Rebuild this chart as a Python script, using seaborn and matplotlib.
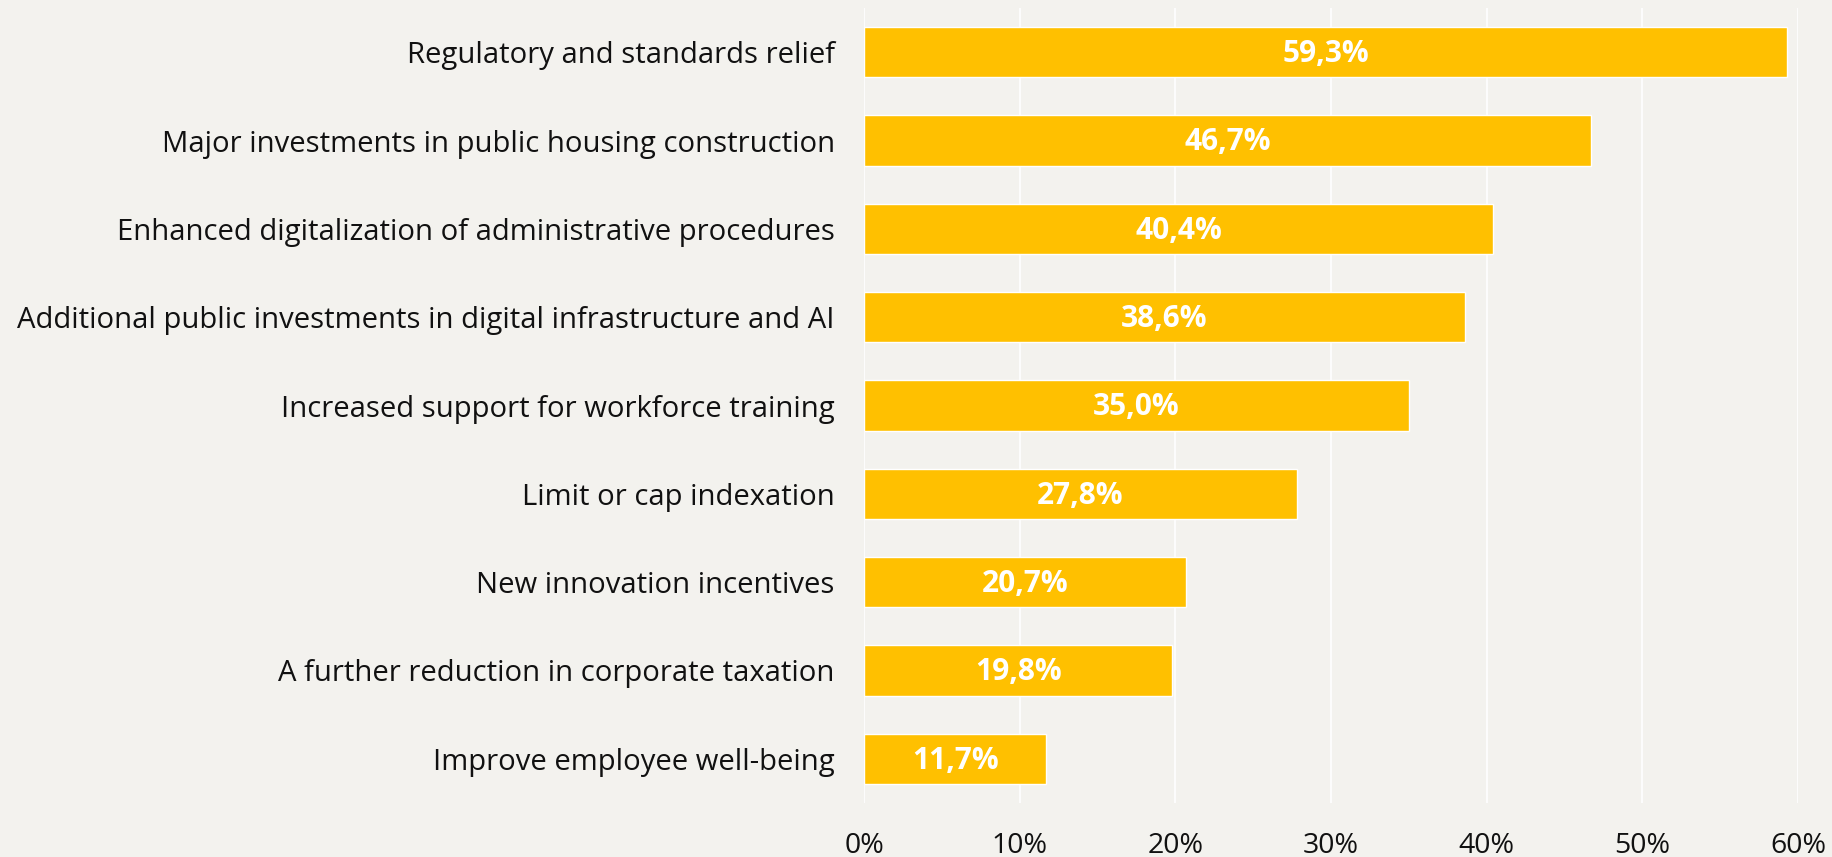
import matplotlib
matplotlib.use("Agg")
import matplotlib.pyplot as plt
import seaborn as sns
import pandas as pd

categories = [
    "Regulatory and standards relief",
    "Major investments in public housing construction",
    "Enhanced digitalization of administrative procedures",
    "Additional public investments in digital infrastructure and AI",
    "Increased support for workforce training",
    "Limit or cap indexation",
    "New innovation incentives",
    "A further reduction in corporate taxation",
    "Improve employee well-being",
]
values = [59.3, 46.7, 40.4, 38.6, 35.0, 27.8, 20.7, 19.8, 11.7]
xticks = [0, 10, 20, 30, 40, 50, 60]
xtick_labels = ["0%", "10%", "20%", "30%", "40%", "50%", "60%"]

BG = "#F3F2EE"
BAR = "#FFC000"

sns.set_theme(style="white")
plt.rcParams["font.family"] = ["Open Sans", "DejaVu Sans"]

df = pd.DataFrame({"category": categories, "value": values})

fig = plt.figure(figsize=(18.32, 8.57), dpi=100, facecolor=BG)
ax = fig.add_axes([864 / 1832, 1 - 803 / 857, (1798 - 864) / 1832, (803 - 8) / 857])
ax.set_facecolor(BG)

sns.barplot(data=df, x="value", y="category", color=BAR, saturation=1,
            width=0.57, ax=ax, zorder=3)

ax.set_xlim(0, 60)
ax.set_ylim(len(categories) - 0.5, -0.5)
ax.set_xticks(xticks)
ax.set_xticklabels(xtick_labels)
ax.grid(axis="x", color="white", linewidth=1.2, zorder=0)
ax.grid(axis="y", visible=False)
ax.set_axisbelow(True)
for s in ax.spines.values():
    s.set_visible(False)
ax.set_xlabel("")
ax.set_ylabel("")
ax.tick_params(axis="y", length=0, pad=21, labelsize=21.1, labelcolor="#111111")
ax.tick_params(axis="x", length=0, pad=21, labelsize=20.5, labelcolor="#111111")

for i, v in enumerate(values):
    ax.text(v / 2, i + 0.02, f"{v:.1f}".replace(".", ",") + "%", ha="center", va="center",
            color="white", fontsize=21.5, fontweight="bold", zorder=5)

fig.savefig("out.png", dpi=100, facecolor=BG)
